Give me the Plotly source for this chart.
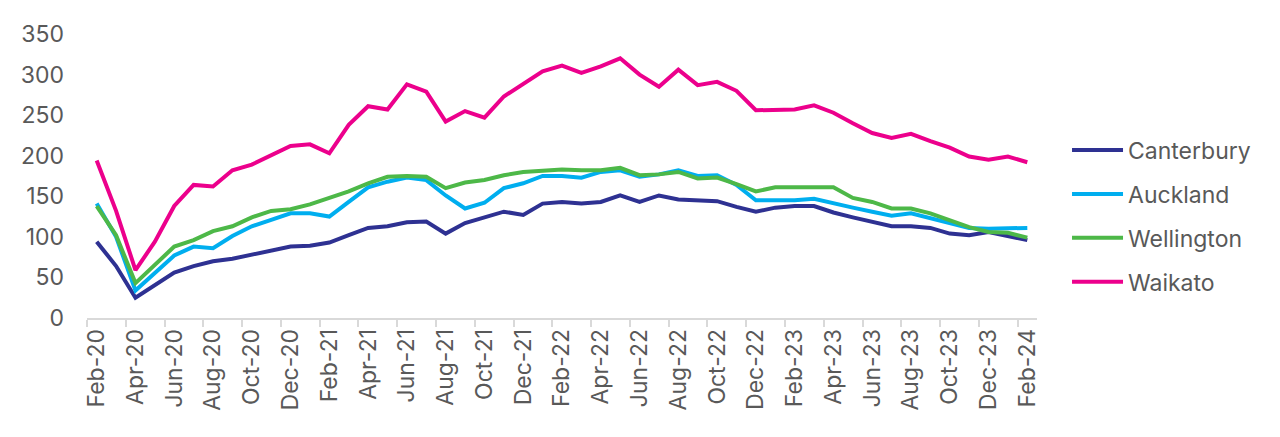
import plotly.graph_objects as go
import pandas as pd

months = [d.strftime("%b-%y") for d in pd.date_range("2020-02-01", "2024-02-01", freq="MS")]

canterbury = [94, 64, 25, 40, 56, 64, 70, 73, 78, 83, 88, 89, 93, 102, 111, 113,
              118, 119, 104, 117, 124, 131, 127, 141, 143, 141, 143, 151, 143, 151, 146, 145,
              144, 137, 131, 136, 138, 138, 130, 124, 119, 113, 113, 111, 104, 102, 106, 101, 96]
auckland = [141, 100, 34, 56, 77, 88, 86, 101, 113, 121, 129, 129, 125, 143, 161, 168,
            173, 170, 151, 135, 142, 160, 166, 175, 175, 173, 180, 182, 174, 177, 182, 175,
            176, 164, 145, 145, 145, 147, 141, 136, 131, 126, 129, 123, 117, 111, 110, 111, 111]
wellington = [138, 102, 43, 66, 88, 96, 107, 113, 124, 132, 134, 140, 148, 156, 166, 174,
              175, 174, 160, 167, 170, 176, 180, 182, 183, 182, 182, 185, 176, 177, 180, 172,
              173, 165, 156, 161, 161, 160, 161, 148, 143, 135, 135, 129, 120, 112, 106, 105, 99]
waikato = [194, 132, 59, 94, 138, 164, 162, 182, 189, 200, 212, 214, 203, 238, 261, 257,
           288, 279, 242, 255, 247, 273, 289, 304, 311, 302, 310, 320, 300, 285, 306, 287,
           291, 280, 256, 256, 257, 262, 253, 240, 228, 222, 227, 218, 210, 199, 195, 199, 192]

series = [
    ("Canterbury", canterbury, "#2E3192"),
    ("Auckland", auckland, "#00AEEF"),
    ("Wellington", wellington, "#4DB848"),
    ("Waikato", waikato, "#EC008C"),
]

FONT = "Inter"
GREY = "#595959"

fig = go.Figure()
for name, vals, col in series:
    fig.add_trace(go.Scatter(
        x=months, y=vals, name=name, mode="lines",
        line=dict(color=col, width=4), legendgroup=name,
    ))

fig.update_layout(
    width=1272, height=429,
    margin=dict(l=79, r=243, t=19, b=119),
    paper_bgcolor="white", plot_bgcolor="white",
    font=dict(family=FONT, color=GREY),
    legend=dict(
        x=1.0316, y=0.359, xanchor="left", yanchor="middle",
        font=dict(size=23, color=GREY, family=FONT),
        tracegroupgap=11, bgcolor="rgba(0,0,0,0)",
        itemwidth=51,
    ),
    showlegend=True,
)
fig.update_xaxes(
    type="category", range=[-0.5, 48.5], dtick=2, tickson="boundaries",
    tickangle=-90, tickfont=dict(size=23, color=GREY, family=FONT),
    showline=True, linecolor="#D9D9D9", linewidth=1.5,
    ticks="outside", ticklen=7, tickcolor="#D9D9D9", tickwidth=1.5,
    showgrid=False, zeroline=False,
)
fig.update_yaxes(
    range=[0, 350], dtick=50, tickfont=dict(size=23, color=GREY, family=FONT),
    showgrid=False, zeroline=False, showline=False, ticks="",
    ticklabelstandoff=22,
)
fig.write_html("out.html")
